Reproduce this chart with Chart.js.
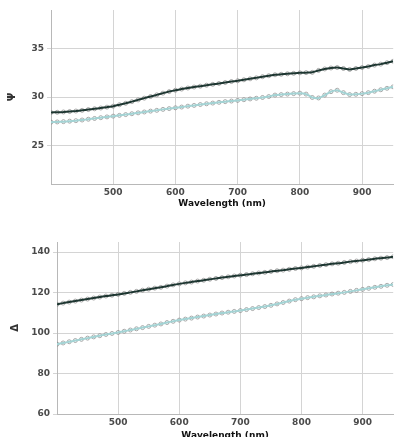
<!DOCTYPE html>
<html>
<head>
<meta charset="utf-8">
<script src="https://cdn.jsdelivr.net/npm/chart.js@4.4.1/dist/chart.umd.min.js"></script>
<style>
  body { margin: 0; background: #fff; }
  #psiChart { position: absolute; left: 0; top: 0; }
  #deltaChart { position: absolute; left: 0; top: 218px; }
</style>
</head>
<body>
<canvas id="psiChart" width="398" height="218"></canvas>
<canvas id="deltaChart" width="398" height="219"></canvas>
<script>
// wavelength samples (nm)
const wavelength = [400, 410, 420, 430, 440, 450, 460, 470, 480, 490,
  500, 510, 520, 530, 540, 550, 560, 570, 580, 590,
  600, 610, 620, 630, 640, 650, 660, 670, 680, 690,
  700, 710, 720, 730, 740, 750, 760, 770, 780, 790,
  800, 810, 820, 830, 840, 850, 860, 870, 880, 890,
  900, 910, 920, 930, 940, 950];

// Psi, upper (dark) and lower (light) curves
const psiDark = [28.40, 28.42, 28.45, 28.50, 28.55, 28.62, 28.70, 28.78, 28.86, 28.95,
  29.05, 29.20, 29.35, 29.52, 29.70, 29.88, 30.05, 30.22, 30.40, 30.56,
  30.70, 30.82, 30.93, 31.03, 31.12, 31.22, 31.31, 31.40, 31.50, 31.60,
  31.68, 31.78, 31.88, 31.98, 32.10, 32.20, 32.30, 32.35, 32.40, 32.45,
  32.50, 32.52, 32.55, 32.75, 32.90, 33.00, 33.05, 32.95, 32.85, 32.95,
  33.05, 33.15, 33.30, 33.40, 33.55, 33.70];
const psiLight = [27.40, 27.42, 27.45, 27.50, 27.55, 27.62, 27.70, 27.78, 27.86, 27.94,
  28.02, 28.10, 28.18, 28.27, 28.36, 28.45, 28.54, 28.62, 28.72, 28.80,
  28.88, 28.96, 29.05, 29.13, 29.22, 29.30, 29.37, 29.45, 29.52, 29.58,
  29.65, 29.72, 29.80, 29.87, 29.95, 30.05, 30.20, 30.25, 30.30, 30.35,
  30.40, 30.30, 29.95, 29.90, 30.20, 30.55, 30.70, 30.45, 30.25, 30.28,
  30.35, 30.45, 30.60, 30.75, 30.90, 31.05];

// Delta, upper (dark) and lower (light) curves
const deltaDark = [114.2, 114.8, 115.3, 115.8, 116.3, 116.8, 117.3, 117.8, 118.3, 118.7,
  119.1, 119.6, 120.1, 120.6, 121.2, 121.7, 122.2, 122.6, 123.2, 123.8,
  124.3, 124.8, 125.2, 125.7, 126.1, 126.6, 127.0, 127.4, 127.8, 128.2,
  128.6, 128.9, 129.3, 129.7, 130.0, 130.4, 130.8, 131.1, 131.5, 131.9,
  132.2, 132.6, 133.0, 133.4, 133.8, 134.2, 134.5, 134.9, 135.3, 135.6,
  136.0, 136.3, 136.7, 137.0, 137.3, 137.7];
const deltaLight = [94.5, 95.1, 95.7, 96.3, 96.9, 97.5, 98.1, 98.7, 99.3, 99.8,
  100.3, 100.9, 101.5, 102.1, 102.7, 103.3, 103.9, 104.5, 105.2, 105.8,
  106.4, 106.9, 107.4, 107.9, 108.4, 108.9, 109.4, 109.9, 110.3, 110.7,
  111.1, 111.6, 112.1, 112.6, 113.1, 113.7, 114.4, 115.1, 115.8, 116.5,
  117.0, 117.5, 117.9, 118.4, 118.8, 119.3, 119.7, 120.1, 120.6, 121.1,
  121.6, 122.1, 122.6, 123.1, 123.6, 124.0];

const wlTicks = [500, 600, 700, 800, 900];
const psiTicks = [25, 30, 35];
const deltaTicks = [60, 80, 100, 120, 140];

const darkLine = '#1d3631';
const lightLine = '#a3d3d4';
const dotColor = 'rgba(125,125,125,0.8)';

function toPoints(ys) {
  return wavelength.map((x, i) => ({ x: x, y: ys[i] }));
}

function makeDatasets(dark, light) {
  return [
    { data: toPoints(dark), borderColor: darkLine, borderWidth: 2, pointRadius: 0, tension: 0.2, order: 0 },
    { data: toPoints(light), borderColor: lightLine, borderWidth: 2, pointRadius: 0, tension: 0.2, order: 0 },
    { data: toPoints(dark), showLine: false, pointRadius: 2, pointBorderWidth: 0.8,
      pointBorderColor: dotColor, pointBackgroundColor: 'rgba(255,255,255,0)', order: 1 },
    { data: toPoints(light), showLine: false, pointRadius: 2, pointBorderWidth: 0.8,
      pointBorderColor: dotColor, pointBackgroundColor: 'rgba(255,255,255,0)', order: 1 }
  ];
}

const tickFont = { family: 'DejaVu Sans', size: 9, weight: 'bold' };
const titleFont = { family: 'DejaVu Sans', size: 9, weight: 'bold' };

function makeChart(canvas, opts) {
  return new Chart(canvas, {
    type: 'line',
    data: { datasets: makeDatasets(opts.dark, opts.light) },
    options: {
      responsive: false,
      animation: false,
      layout: { padding: { top: opts.padTop, right: 3, left: 0, bottom: 0 } },
      plugins: { legend: { display: false }, tooltip: { enabled: false } },
      scales: {
        x: {
          type: 'linear',
          min: 400,
          max: 950,
          afterBuildTicks: s => { s.ticks = wlTicks.map(v => ({ value: v })); },
          afterFit: s => { s.height = opts.xHeight; },
          grid: { color: '#d4d4d4', tickLength: 0 },
          border: { color: '#b8b8b8' },
          ticks: { font: tickFont, color: '#4a4a4a', padding: 3, maxRotation: 0 },
          title: {
            display: true,
            text: 'Wavelength (nm)',
            font: titleFont,
            color: '#111',
            padding: { top: 0, bottom: opts.xTitlePad }
          }
        },
        y: {
          min: opts.yMin,
          max: opts.yMax,
          afterBuildTicks: s => { s.ticks = opts.yTicks.map(v => ({ value: v })); },
          afterFit: s => { s.width = opts.yWidth; },
          grid: { color: '#d4d4d4', tickLength: 4 },
          border: { color: '#b8b8b8' },
          ticks: { font: tickFont, color: '#4a4a4a', padding: 3 },
          title: {
            display: true,
            text: opts.yTitle,
            font: { family: 'DejaVu Sans', size: 10, weight: 'bold' },
            color: '#333',
            padding: { top: opts.yTitlePad, bottom: 0 }
          }
        }
      }
    }
  });
}

makeChart(document.getElementById('psiChart'), {
  dark: psiDark, light: psiLight,
  yMin: 21, yMax: 39, yTicks: psiTicks, yTitle: 'Ψ',
  yWidth: 51, xHeight: 34, padTop: 10, xTitlePad: 9, yTitlePad: 6
});

makeChart(document.getElementById('deltaChart'), {
  dark: deltaDark, light: deltaLight,
  yMin: 60, yMax: 145, yTicks: deltaTicks, yTitle: 'Δ',
  yWidth: 57, xHeight: 23, padTop: 24, xTitlePad: -4, yTitlePad: 9
});
</script>
</body>
</html>
